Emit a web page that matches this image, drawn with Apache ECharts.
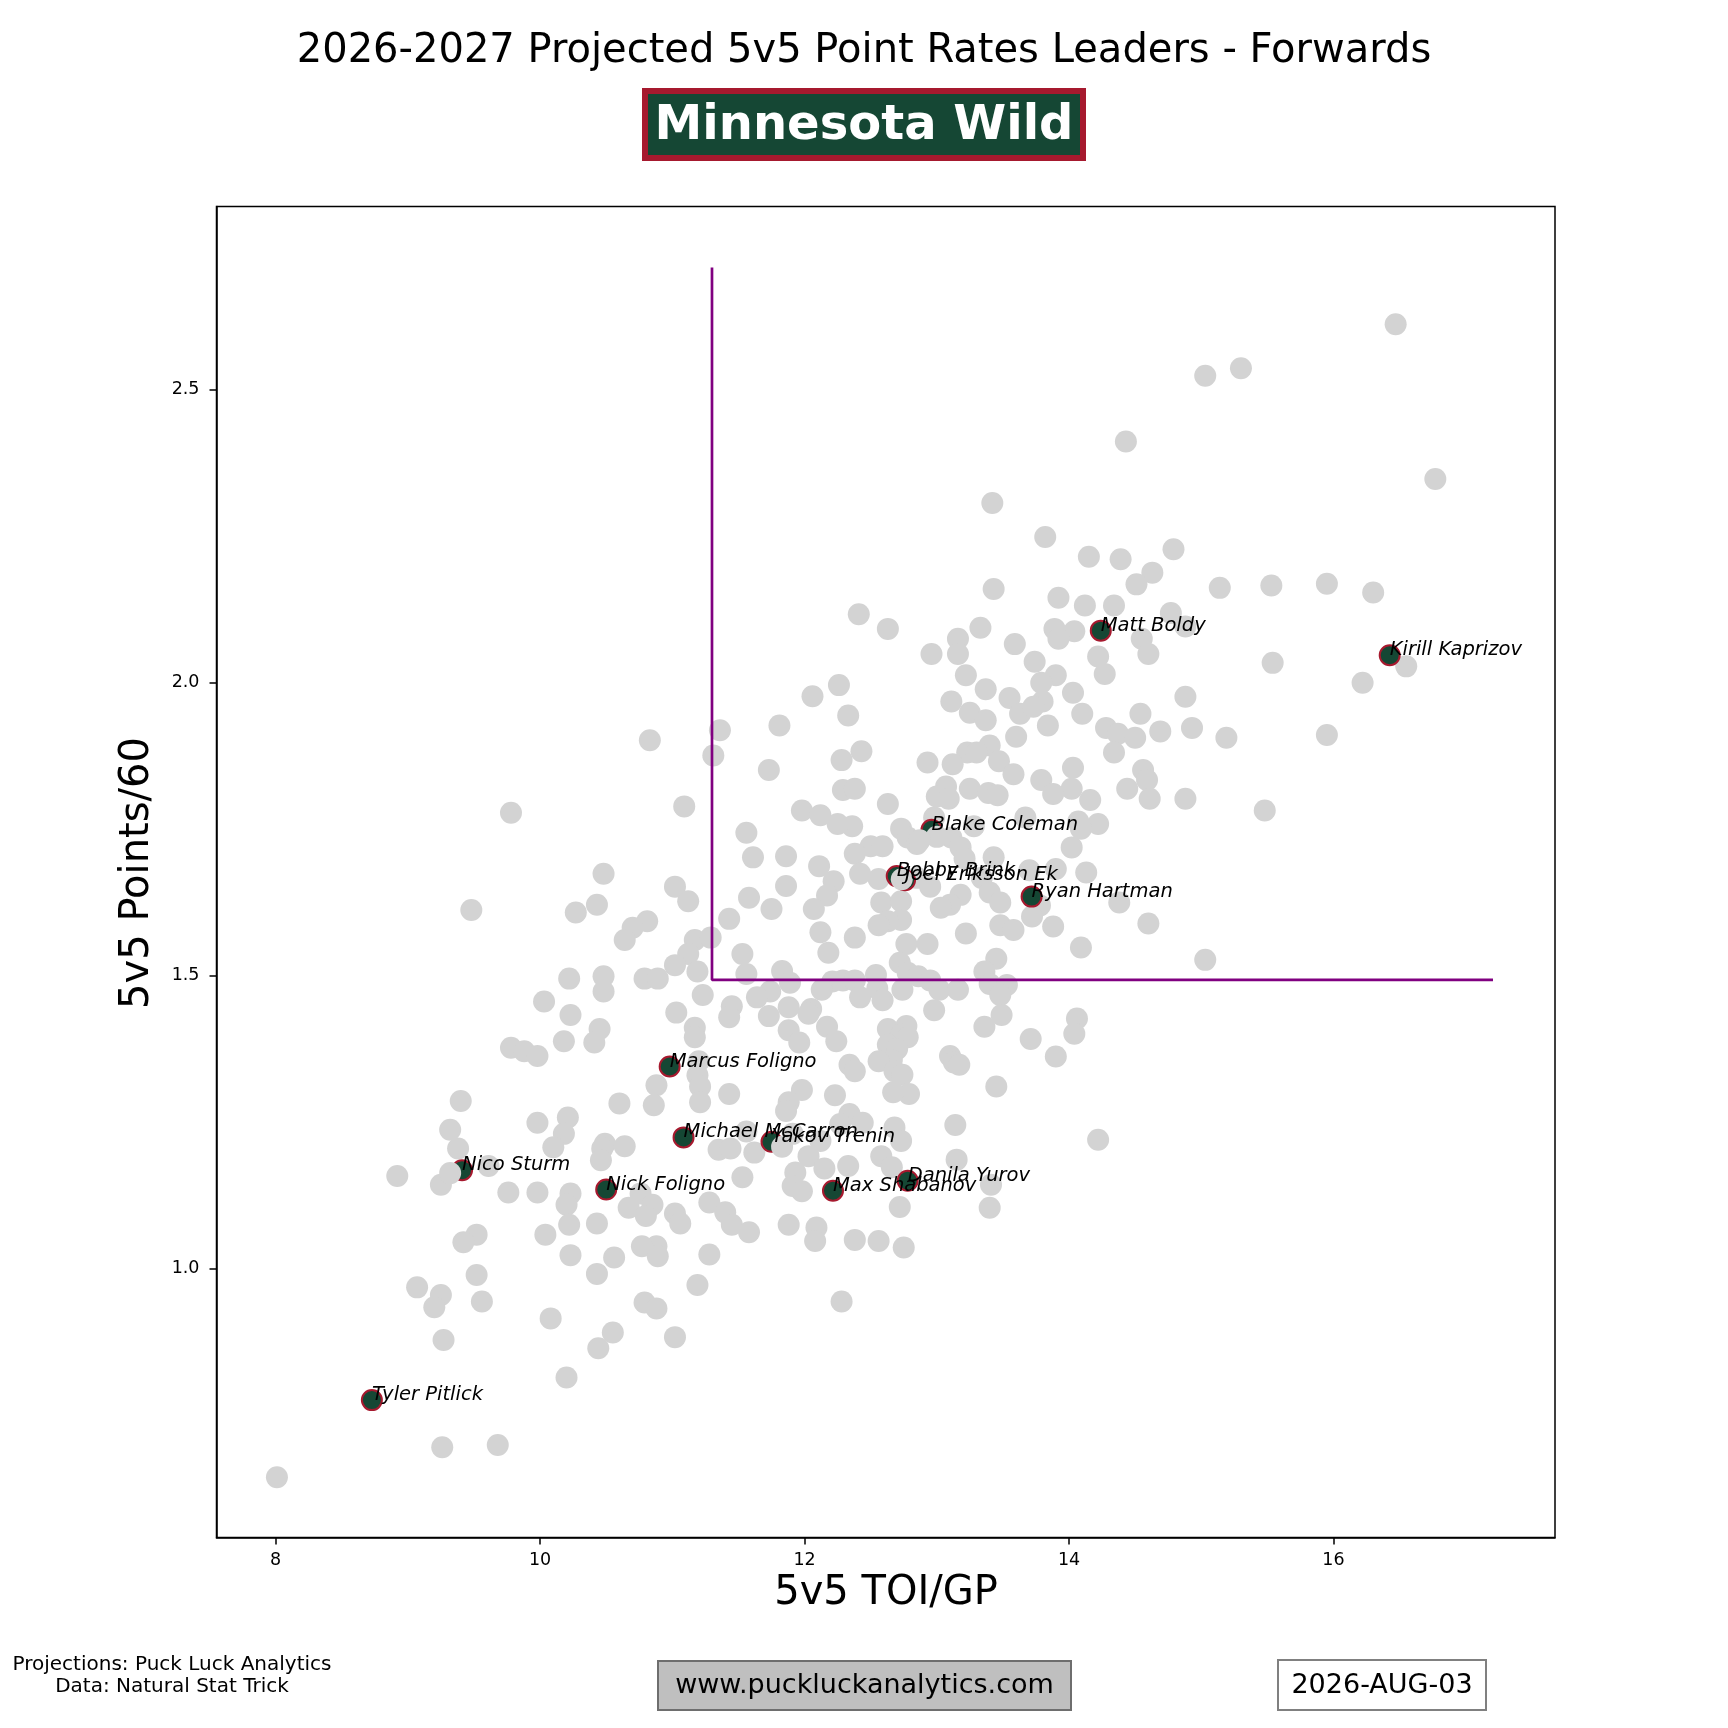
<!DOCTYPE html>
<html><head><meta charset="utf-8">
<script src="https://cdn.jsdelivr.net/npm/echarts@6/dist/echarts.min.js"></script>
<style>html,body{margin:0;padding:0;background:#fff}#c{width:1728px;height:1728px}</style>
</head><body><div id="c"></div>
<script>
const xTicks = [8, 10, 12, 14, 16];
const yTicks = [1.0, 1.5, 2.0, 2.5];

const leaguePoints = [
[16.47,2.612],[15.30,2.537],[15.03,2.524],[14.43,2.412],[16.77,2.348],[13.42,2.307],[13.82,2.249],[14.79,2.228],
[14.39,2.211],[14.15,2.215],[14.63,2.188],[14.51,2.168],[15.14,2.162],[15.53,2.166],[15.95,2.169],[16.30,2.154],
[13.43,2.160],[13.92,2.145],[14.12,2.132],[14.34,2.132],[12.41,2.117],[14.77,2.119],[14.88,2.096],[12.63,2.092],
[13.33,2.094],[13.89,2.092],[14.04,2.088],[13.92,2.075],[13.16,2.075],[14.55,2.075],[13.59,2.066],[12.96,2.049],
[13.16,2.049],[14.22,2.045],[14.60,2.049],[15.54,2.034],[13.74,2.036],[16.55,2.028],[14.27,2.015],[13.22,2.013],
[13.90,2.013],[16.22,2.000],[13.79,2.000],[13.37,1.989],[13.55,1.974],[14.03,1.983],[14.88,1.976],[12.06,1.977],
[12.26,1.996],[13.11,1.968],[13.80,1.968],[13.25,1.949],[13.63,1.947],[14.10,1.947],[12.33,1.944],[13.37,1.936],
[14.54,1.947],[13.73,1.959],[11.36,1.919],[11.81,1.927],[14.28,1.923],[14.69,1.917],[14.93,1.923],[14.37,1.913],
[13.84,1.927],[15.19,1.906],[15.95,1.911],[14.50,1.906],[13.60,1.908],[10.83,1.902],[13.40,1.893],[13.23,1.881],
[13.30,1.881],[14.34,1.881],[12.43,1.883],[12.28,1.868],[11.31,1.876],[12.93,1.864],[13.12,1.861],[13.47,1.866],
[14.03,1.855],[11.73,1.851],[14.56,1.851],[13.58,1.844],[14.59,1.834],[13.79,1.834],[13.07,1.823],[13.25,1.819],
[14.44,1.819],[14.02,1.819],[12.29,1.817],[12.38,1.819],[13.39,1.812],[13.46,1.808],[13.88,1.810],[13.00,1.806],
[13.09,1.802],[14.16,1.800],[14.61,1.802],[14.88,1.802],[12.63,1.793],[11.09,1.789],[11.98,1.782],[15.48,1.782],
[12.12,1.774],[9.78,1.778],[12.98,1.770],[13.67,1.770],[14.22,1.759],[14.07,1.763],[12.36,1.755],[12.25,1.759],
[11.56,1.744],[13.28,1.755],[14.09,1.751],[12.73,1.751],[12.78,1.736],[13.11,1.736],[12.85,1.725],[12.50,1.721],
[12.59,1.721],[13.18,1.719],[14.02,1.719],[12.38,1.708],[11.61,1.702],[11.86,1.704],[13.43,1.702],[13.21,1.700],
[12.11,1.687],[13.70,1.680],[13.90,1.682],[12.42,1.674],[10.48,1.674],[14.13,1.676],[12.56,1.665],[12.85,1.667],
[13.34,1.667],[12.22,1.661],[12.95,1.652],[11.02,1.652],[11.86,1.653],[13.18,1.638],[13.40,1.642],[12.17,1.637],
[11.58,1.633],[11.12,1.627],[12.58,1.625],[12.73,1.627],[13.10,1.621],[13.48,1.625],[13.78,1.620],[14.38,1.625],
[9.48,1.612],[10.43,1.621],[10.27,1.608],[11.75,1.614],[12.07,1.614],[13.03,1.616],[13.72,1.601],[11.43,1.597],
[10.81,1.593],[10.70,1.582],[12.73,1.595],[12.63,1.593],[13.48,1.586],[13.88,1.584],[13.58,1.578],[14.60,1.589],
[12.56,1.586],[13.22,1.572],[12.12,1.574],[12.38,1.565],[10.64,1.561],[11.17,1.561],[11.29,1.565],[12.77,1.554],
[12.93,1.554],[14.09,1.548],[11.53,1.537],[12.18,1.539],[11.12,1.537],[13.45,1.529],[15.03,1.527],[12.72,1.522],
[11.02,1.518],[12.78,1.505],[13.36,1.507],[11.19,1.507],[11.83,1.508],[10.48,1.499],[10.79,1.495],[10.89,1.495],
[11.56,1.503],[12.54,1.501],[12.86,1.499],[10.22,1.495],[12.21,1.490],[12.29,1.492],[12.38,1.492],[11.89,1.488],
[12.95,1.492],[13.40,1.486],[13.53,1.484],[12.55,1.478],[12.13,1.476],[12.74,1.476],[13.02,1.476],[13.16,1.476],
[10.48,1.473],[11.74,1.473],[11.23,1.467],[11.64,1.463],[12.42,1.463],[13.48,1.467],[12.59,1.458],[10.03,1.456],
[11.45,1.448],[11.88,1.446],[12.05,1.443],[12.98,1.441],[11.03,1.437],[12.03,1.435],[10.23,1.433],[11.73,1.431],
[11.43,1.429],[14.06,1.427],[13.49,1.433],[12.17,1.413],[13.36,1.413],[11.17,1.411],[10.45,1.409],[12.63,1.409],
[12.77,1.414],[11.88,1.407],[12.73,1.399],[14.04,1.401],[12.78,1.395],[11.17,1.395],[13.71,1.392],[10.18,1.388],
[10.41,1.386],[11.96,1.386],[12.24,1.388],[12.63,1.382],[12.70,1.375],[9.78,1.377],[9.88,1.371],[9.98,1.363],
[13.90,1.362],[13.10,1.363],[12.66,1.356],[11.20,1.354],[12.56,1.354],[13.13,1.352],[12.34,1.348],[13.17,1.348],
[12.38,1.337],[12.68,1.337],[12.74,1.331],[11.19,1.330],[10.88,1.313],[11.21,1.311],[13.45,1.311],[12.23,1.296],
[12.79,1.298],[11.43,1.298],[12.67,1.301],[10.60,1.282],[11.21,1.284],[11.98,1.305],[11.88,1.284],[9.40,1.286],
[10.86,1.279],[11.86,1.269],[12.34,1.264],[10.21,1.258],[9.98,1.249],[13.14,1.245],[12.27,1.247],[12.44,1.249],
[12.68,1.241],[9.32,1.237],[10.18,1.230],[14.22,1.220],[12.73,1.218],[11.56,1.234],[11.91,1.230],[10.49,1.213],
[11.35,1.203],[11.44,1.205],[10.10,1.207],[9.38,1.205],[10.47,1.205],[10.64,1.209],[11.62,1.198],[12.12,1.218],
[12.03,1.192],[12.58,1.192],[13.15,1.186],[10.46,1.185],[12.33,1.175],[12.15,1.171],[12.66,1.173],[9.61,1.175],
[8.92,1.158],[11.53,1.156],[11.93,1.164],[9.25,1.143],[13.41,1.143],[11.91,1.141],[11.98,1.132],[9.76,1.130],
[9.98,1.130],[10.23,1.128],[10.76,1.128],[12.72,1.105],[10.85,1.109],[10.67,1.104],[10.20,1.109],[11.28,1.113],
[13.40,1.104],[11.02,1.094],[11.40,1.096],[10.80,1.090],[11.45,1.075],[11.06,1.077],[12.09,1.070],[11.88,1.075],
[10.43,1.077],[10.22,1.075],[9.52,1.058],[10.04,1.058],[11.58,1.062],[12.08,1.047],[12.38,1.049],[12.56,1.047],
[9.42,1.045],[10.88,1.038],[10.77,1.038],[12.75,1.036],[10.89,1.021],[10.23,1.023],[11.28,1.024],[10.56,1.019],
[9.52,0.989],[10.43,0.991],[9.07,0.968],[11.19,0.972],[9.56,0.944],[10.79,0.942],[9.25,0.955],[12.28,0.944],
[9.20,0.934],[10.88,0.932],[10.08,0.915],[9.27,0.878],[11.02,0.883],[10.55,0.891],[10.44,0.864],[10.20,0.814],
[9.26,0.695],[9.68,0.699],[8.01,0.644]
];

const grayOnTop = [[13.00,1.737],[12.87,1.731],[9.32,1.163],[11.83,1.208],[12.735,1.6645]];

const teamNames = ['Tyler Pitlick','Nico Sturm','Nick Foligno','Marcus Foligno','Michael McCarron','Yakov Trenin',
  'Max Shabanov','Danila Yurov','Bobby Brink','Joel Eriksson Ek','Blake Coleman','Ryan Hartman','Matt Boldy','Kirill Kaprizov'];
const teamToi = [8.728, 9.41, 10.50, 10.98, 11.085, 11.75, 12.215, 12.78, 12.697, 12.76, 12.96, 13.717, 14.24, 16.425];
const teamPts = [0.7755, 1.168, 1.135, 1.345, 1.224, 1.2165, 1.133, 1.150, 1.670, 1.663, 1.749, 1.635, 2.089, 2.047];

const refLine = [[11.3, 2.709], [11.3, 1.493], [17.206, 1.493]];

const FONT = 'DejaVu Sans';
const teamData = teamNames.map((n, i) => ({ name: n, value: [teamToi[i], teamPts[i]] }));

const chart = echarts.init(document.getElementById('c'), null, { renderer: 'canvas' });
chart.setOption({
  backgroundColor: '#ffffff',
  animation: false,
  grid: { left: 216.5, top: 206.5, width: 1338.5, height: 1331, show: true, borderColor: '#000', borderWidth: 1.5, backgroundColor: 'transparent' },
  xAxis: {
    type: 'value', min: 7.553, max: 17.675,
    axisLine: { show: true, lineStyle: { color: '#000', width: 1.5 } },
    axisTick: { show: true, length: 7, lineStyle: { color: '#000', width: 1.5 }, customValues: xTicks },
    axisLabel: { customValues: xTicks, margin: 14, fontSize: 17.5, fontFamily: FONT, color: '#000', formatter: v => String(v) },
    splitLine: { show: false }
  },
  yAxis: {
    type: 'value', min: 0.541, max: 2.813,
    axisLine: { show: true, lineStyle: { color: '#000', width: 1.5 } },
    axisTick: { show: true, length: 7, lineStyle: { color: '#000', width: 1.5 }, customValues: yTicks },
    axisLabel: { customValues: yTicks, margin: 17, fontSize: 17.5, fontFamily: FONT, color: '#000', formatter: v => v.toFixed(1) },
    splitLine: { show: false }
  },
  series: [
    { type: 'scatter', z: 2, data: leaguePoints, symbolSize: 22, itemStyle: { color: '#d3d3d3', opacity: 1 }, silent: true },
    { type: 'line', z: 3, data: refLine, symbol: 'none', lineStyle: { color: '#800080', width: 2.7 }, silent: true },
    { type: 'scatter', z: 4, data: teamData, symbolSize: 20, itemStyle: { color: '#154734', borderColor: '#a6192e', borderWidth: 2, opacity: 1 }, silent: true },
    { type: 'scatter', z: 5, data: grayOnTop, symbolSize: 22, itemStyle: { color: '#d3d3d3', opacity: 1 }, silent: true },
    { type: 'scatter', z: 6, data: teamData, symbolSize: 22, itemStyle: { color: 'rgba(0,0,0,0)', opacity: 1 }, silent: true,
      label: { show: true, formatter: p => p.name, position: [11, 16], align: 'left', verticalAlign: 'bottom',
        fontStyle: 'italic', fontSize: 19.5, fontFamily: FONT, color: '#000', opacity: 1 } }
  ],
  graphic: [
    { type: 'text', x: 864, y: 52, style: { text: '2026-2027 Projected 5v5 Point Rates Leaders - Forwards', font: '40px "DejaVu Sans"', fill: '#000', textAlign: 'center', textVerticalAlign: 'middle' } },
    { type: 'rect', shape: { x: 645, y: 91, width: 438, height: 67 }, style: { fill: '#154734', stroke: '#a6192e', lineWidth: 6 } },
    { type: 'text', x: 864, y: 127, style: { text: 'Minnesota Wild', font: 'bold 48px "DejaVu Sans"', fill: '#fff', textAlign: 'center', textVerticalAlign: 'middle' } },
    { type: 'text', x: 886, y: 1594, style: { text: '5v5 TOI/GP', font: '40px "DejaVu Sans"', fill: '#000', textAlign: 'center', textVerticalAlign: 'middle' } },
    { type: 'text', x: 138, y: 873, rotation: Math.PI / 2, style: { text: '5v5 Points/60', font: '40px "DejaVu Sans"', fill: '#000', textAlign: 'center', textVerticalAlign: 'middle' } },
    { type: 'text', x: 172, y: 1665, style: { text: 'Projections: Puck Luck Analytics', font: '20px "DejaVu Sans"', fill: '#000', textAlign: 'center', textVerticalAlign: 'middle' } },
    { type: 'text', x: 172, y: 1687, style: { text: 'Data: Natural Stat Trick', font: '20px "DejaVu Sans"', fill: '#000', textAlign: 'center', textVerticalAlign: 'middle' } },
    { type: 'rect', shape: { x: 658, y: 1661, width: 413, height: 49 }, style: { fill: '#bfbfbf', stroke: '#6e6e6e', lineWidth: 2 } },
    { type: 'text', x: 864.5, y: 1686, style: { text: 'www.puckluckanalytics.com', font: '27px "DejaVu Sans"', fill: '#000', textAlign: 'center', textVerticalAlign: 'middle' } },
    { type: 'rect', shape: { x: 1278, y: 1660, width: 208, height: 50 }, style: { fill: '#fff', stroke: '#808080', lineWidth: 2 } },
    { type: 'text', x: 1382, y: 1686, style: { text: '2026-AUG-03', font: '27px "DejaVu Sans"', fill: '#000', textAlign: 'center', textVerticalAlign: 'middle' } }
  ]
});
</script>
</body></html>
